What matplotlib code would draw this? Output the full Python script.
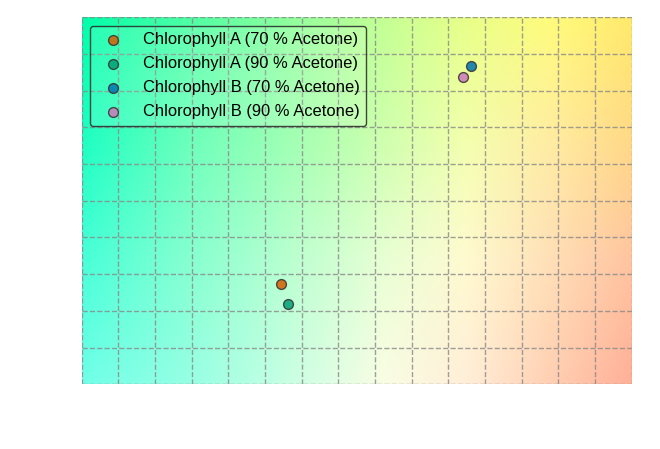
import numpy as np
import matplotlib
matplotlib.use("Agg")
import matplotlib.pyplot as plt

# ---- data ----
series_labels = ["Chlorophyll A (70 % Acetone)", "Chlorophyll A (90 % Acetone)",
                 "Chlorophyll B (70 % Acetone)", "Chlorophyll B (90 % Acetone)"]
x_values = [5.44, 5.63, 10.61, 10.41]
y_values = [2.74, 2.20, 8.67, 8.37]
series_colors = ["#d55e00", "#029e73", "#0173b2", "#cc78bc"]

x_limits = (0, 15)
y_limits = (0, 10)

plt.rcParams['font.family'] = ['Liberation Sans', 'DejaVu Sans']

fig = plt.figure(figsize=(6.6, 4.49), dpi=100)
ax = fig.add_axes([81.8 / 660, (449 - 384.3) / 449, (631.6 - 81.8) / 660, (384.3 - 17.3) / 449])

# ---- background gradient (control colours, bilinear) ----
def hx(c):
    c = c.lstrip('#')
    return [int(c[i:i + 2], 16) / 255 for i in (0, 2, 4)]

col_pos = [0.0, 0.2, 0.4, 0.55, 0.7, 0.85, 1.0]
row_pos = [0.0, 0.35, 0.66, 1.0]  # from top
ctrl = [
    ["#00ffaa", "#50ffa4", "#98ff9c", "#c4ff94", "#e8ff88", "#fffc7c", "#ffea6c"],
    ["#20ffc4", "#70ffbc", "#a8ffb4", "#d0ffb0", "#f4ffb0", "#ffeca4", "#ffd888"],
    ["#48ffd8", "#88ffd0", "#c0ffd0", "#e8ffd4", "#fffad0", "#ffe0b8", "#ffc4a0"],
    ["#70ffe8", "#98ffe4", "#d0ffe4", "#fafde4", "#ffeed8", "#ffd0b4", "#ffb098"],
]
C = np.array([[hx(c) for c in row] for row in ctrl])
ny, nx = 200, 300
gy = np.linspace(0, 1, ny)
gx = np.linspace(0, 1, nx)
img = np.zeros((ny, nx, 3))
for ch in range(3):
    tmp = np.array([np.interp(gx, col_pos, C[r, :, ch]) for r in range(len(row_pos))])
    img[:, :, ch] = np.array([np.interp(gy, row_pos, tmp[:, j]) for j in range(nx)]).T
ax.imshow(img, extent=[x_limits[0], x_limits[1], y_limits[0], y_limits[1]],
          aspect='auto', zorder=0, interpolation='bilinear', origin='upper')

for xv, yv, col, lab in zip(x_values, y_values, series_colors, series_labels):
    ax.scatter([xv], [yv], s=50, color=col, alpha=0.85, edgecolor='#333333',
               linewidth=1.0, label=lab, zorder=3)

ax.set_xlim(*x_limits)
ax.set_ylim(*y_limits)
ax.set_xticks(np.arange(x_limits[0], x_limits[1] + 1, 1))
ax.set_yticks(np.arange(y_limits[0], y_limits[1] + 1, 1))
ax.tick_params(length=0, labelbottom=False, labelleft=False)
for sp in ax.spines.values():
    sp.set_visible(False)
ax.grid(True, linestyle='--', color='#888888', alpha=0.8, linewidth=1.0, zorder=1)
ax.set_axisbelow(False)

leg = ax.legend(loc='upper left', fontsize=11.9, frameon=True, fancybox=True,
                labelspacing=0.55)
fr = leg.get_frame()
fr.set_alpha(None)
fr.set_facecolor((1, 1, 1, 0.12))
fr.set_edgecolor((0.15, 0.15, 0.15, 0.85))
fr.set_linewidth(1.0)

fig.savefig("out.png", dpi=100)
